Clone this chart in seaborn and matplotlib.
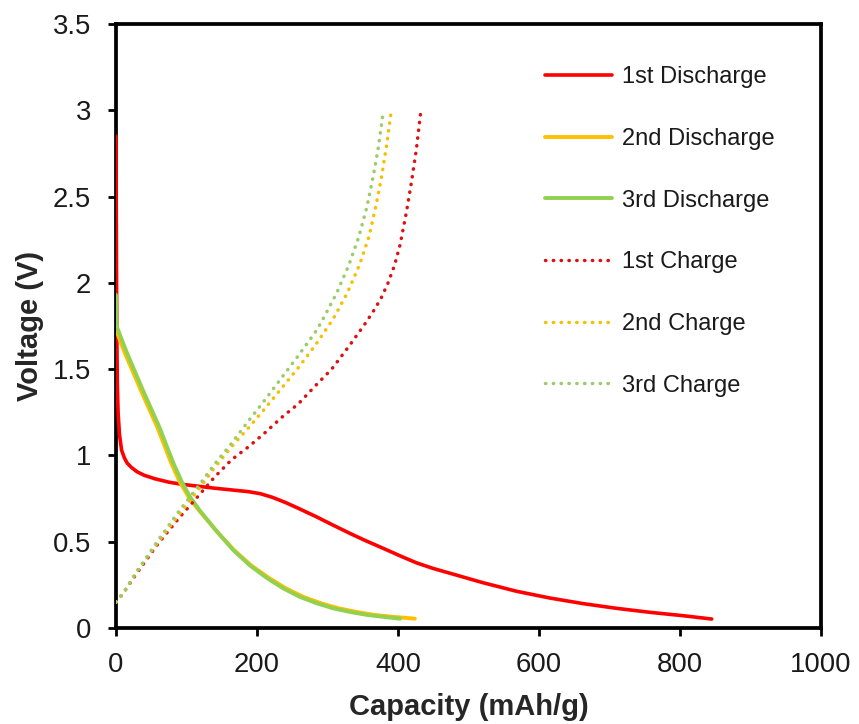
import seaborn as sns
import matplotlib
matplotlib.use("Agg")
import matplotlib.pyplot as plt
import pandas as pd

# values (capacity in mAh/g, voltage in V)
dis1_cap = [0, 0.6, 1.2, 2, 3, 5, 8, 12, 16, 22, 30, 40, 55, 75, 93, 140, 188, 205, 222, 240, 259, 285,
            306, 332, 353, 380, 403, 426, 450, 474, 521, 568, 615, 663, 710, 757, 805, 845]
dis1_v = [2.85, 2.2, 1.7, 1.4, 1.25, 1.12, 1.03, 0.985, 0.955, 0.93, 0.905, 0.885, 0.865, 0.845, 0.833,
          0.81, 0.79, 0.778, 0.757, 0.728, 0.693, 0.643, 0.60, 0.548, 0.508, 0.46, 0.418, 0.378, 0.345,
          0.317, 0.262, 0.213, 0.174, 0.141, 0.114, 0.091, 0.071, 0.052]

dis2_cap = [0, 0.8, 12, 35, 59, 78, 90, 103, 118, 143, 167, 192, 217, 241, 266, 291, 316, 341, 366, 395, 424]
dis2_v = [1.78, 1.72, 1.60, 1.38, 1.16, 0.96, 0.85, 0.76, 0.68, 0.56, 0.453, 0.362, 0.29, 0.23, 0.18,
          0.143, 0.114, 0.093, 0.076, 0.064, 0.054]

dis3_cap = [0, 0.8, 15, 38, 62, 81, 93, 105, 119, 143, 166, 190, 214, 237, 261, 285, 308, 332, 356, 380, 403]
dis3_v = [1.93, 1.75, 1.60, 1.38, 1.16, 0.96, 0.85, 0.76, 0.68, 0.56, 0.453, 0.362, 0.29, 0.23, 0.18,
          0.143, 0.114, 0.093, 0.076, 0.064, 0.054]

chg1_cap = [0, 10, 30, 60, 90, 120, 140, 164, 188, 211, 235, 259, 282, 306, 330, 352, 365, 376, 386,
            395, 403, 412, 419, 426, 432]
chg1_v = [0.15, 0.20, 0.32, 0.49, 0.64, 0.78, 0.875, 0.975, 1.05, 1.13, 1.22, 1.30, 1.40, 1.50, 1.63,
          1.755, 1.835, 1.91, 2.0, 2.10, 2.22, 2.41, 2.58, 2.77, 2.98]

chg2_cap = [0, 10, 30, 60, 90, 124, 140, 164, 188, 211, 235, 259, 283, 308, 328, 346, 359, 369, 377, 384, 390]
chg2_v = [0.15, 0.20, 0.33, 0.50, 0.66, 0.84, 0.93, 1.05, 1.16, 1.27, 1.39, 1.51, 1.64, 1.79, 1.94,
          2.11, 2.27, 2.45, 2.62, 2.80, 2.98]

chg3_cap = [0, 10, 30, 60, 90, 122, 140, 164, 188, 211, 235, 259, 282, 291, 313, 330, 344, 356, 365, 372, 378]
chg3_v = [0.15, 0.20, 0.33, 0.51, 0.68, 0.85, 0.95, 1.07, 1.20, 1.32, 1.45, 1.58, 1.71, 1.77, 1.94,
          2.10, 2.26, 2.44, 2.62, 2.78, 2.96]

labels = ["1st Discharge", "2nd Discharge", "3rd Discharge", "1st Charge", "2nd Charge", "3rd Charge"]
caps = [dis1_cap, dis2_cap, dis3_cap, chg1_cap, chg2_cap, chg3_cap]
volts = [dis1_v, dis2_v, dis3_v, chg1_v, chg2_v, chg3_v]
colors = ["#FF0000", "#FFC000", "#92D050", "#DD1111", "#F5C000", "#9BCB6A"]
widths = [2.6, 2.8, 2.8]

sns.set_style("ticks")
plt.rcParams["font.family"] = ["Liberation Sans", "DejaVu Sans"]

fig = plt.figure(figsize=(8.59, 7.24), dpi=100)
ax = fig.add_axes([0.1350, 0.1326, 0.8207, 0.8343])

for i in range(6):
    df = pd.DataFrame({"cap": caps[i], "v": volts[i]})
    if i < 3:
        sns.lineplot(data=df, x="cap", y="v", sort=False, color=colors[i], lw=widths[i],
                     label=labels[i], ax=ax, zorder=3)
    else:
        # dotted charge curves
        sns.lineplot(data=df, x="cap", y="v", sort=False, color=colors[i], lw=2.5,
                     linestyle=(0, (0.1, 2.15)), dash_capstyle="round",
                     label=labels[i], ax=ax, zorder=3)

ax.set_xlim(0, 1000)
ax.set_ylim(0, 3.5)
ax.set_xticks([0, 200, 400, 600, 800, 1000])
ax.set_yticks([0, 0.5, 1, 1.5, 2, 2.5, 3, 3.5])
ax.set_yticklabels(["0", "0.5", "1", "1.5", "2", "2.5", "3", "3.5"])

for s in ax.spines.values():
    s.set_linewidth(2.7)
    s.set_color("black")
ax.tick_params(axis="both", direction="out", length=6, width=2, colors="black",
               labelsize=19.8, labelcolor="#1a1a1a")
ax.tick_params(axis="y", pad=12)
ax.tick_params(axis="x", pad=11)

ax.set_xlabel("Capacity (mAh/g)", fontsize=21, fontweight="bold", labelpad=11)
ax.set_ylabel("Voltage (V)", fontsize=21, fontweight="bold", labelpad=6)

leg = ax.legend(loc="upper left", bbox_to_anchor=(0.608, 0.93), frameon=False, fontsize=17,
                handlelength=2.84, handletextpad=0.42, labelspacing=1.68, borderpad=0, borderaxespad=0)
for t in leg.get_texts():
    t.set_color("#1a1a1a")
for line in leg.get_lines():
    line.set_dash_capstyle("round")

fig.savefig("out.png", dpi=100)
